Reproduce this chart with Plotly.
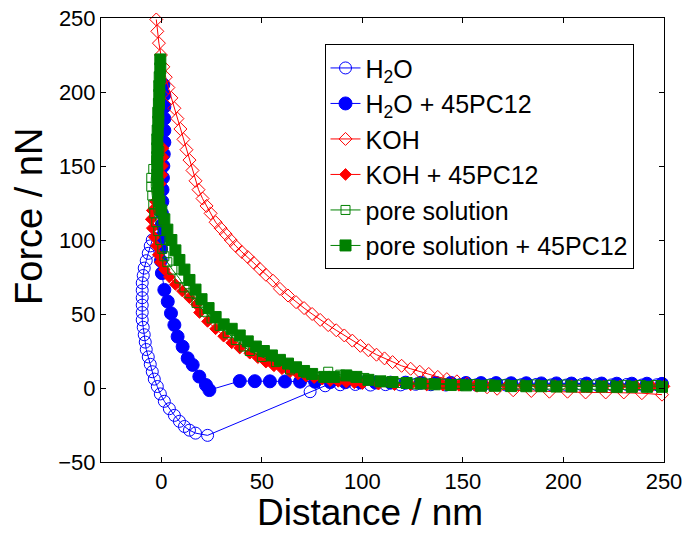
import plotly.graph_objects as go

# ---- force-distance data (distance in nm, force in nN) ----
h2o_x = [-4.5, -5.5, -6.5, -7.5, -8.5, -9, -9.5, -9.5, -9.5, -9.5, -9.5, -9.5, -9, -8.5, -8, -7.5,
         -6.5, -5.5, -4.5, -3.5, -2, -0.5, 1.5, 4, 6.5, 9, 11.5, 14, 17, 23,
         74, 81.5, 89, 96.5, 104, 111.5, 119, 126.5, 134, 141.5, 149, 156.5, 164, 171.5,
         179, 186.5, 194, 201.5, 209, 216.5, 224, 231.5, 239, 246.5]
h2o_y = [100, 96, 91, 86, 81, 76, 71, 66, 61, 56, 51, 46, 41, 36, 31, 26,
         21, 16, 11, 6, 1, -4, -9, -14, -18.5, -22.5, -26, -28.5, -30.5, -32,
         -2.5, 1.5, 2.2, 2.4, 2.0, 2.3, 2.1, 2.5, 2.2, 2.0, 2.4, 2.1, 2.3, 2.0,
         2.2, 2.4, 2.1, 2.0, 2.3, 2.2, 2.1, 2.4, 2.0, 2.2]

h2o_pc_x = [1, 1.5, 1.5, 1.5, 1.5, 1.5, 1.2, 1, 0.8, 0.6, 0.5, 0.3, 0.2, 0, -0.1, -0.2,
            0.3, 1.5, 3.2, 4.8, 6.5, 8.1, 10.6, 13.1, 15.6, 18.9, 22.2, 23.9,
            39, 46.5, 54, 61.5, 69, 76.5, 84, 91.5, 99, 106.5, 114, 121.5, 129, 136.5,
            144, 151.5, 159, 166.5, 174, 181.5, 189, 196.5, 204, 211.5, 219, 226.5,
            234, 241.5, 249]
h2o_pc_y = [205, 198, 190, 182, 174, 166, 158, 150, 142, 134, 126, 118, 110, 102, 94, 86,
            77.6, 66.3, 58.4, 50.5, 42.6, 34.7, 27.9, 20.1, 15.6, 7.7, 2, -1.4,
            4.7, 4.6, 4.5, 4.4, 4.3, 4.2, 4.0, 3.9, 3.8, 3.7, 3.6, 3.6, 3.5, 3.5,
            3.4, 3.4, 3.3, 3.3, 3.2, 3.2, 3.1, 3.1, 3.0, 3.0, 3.0, 2.9,
            2.9, 2.9, 2.8]

koh_x = [-2.5, -2, -1.2, -0.2, 1, 2.2, 3.5, 5, 6.5, 8, 9.5, 11, 12.5, 14, 15.5, 17, 18.5,
         20.5, 22.5, 24.5, 27, 29.5, 32, 34.5, 37, 40, 43, 46, 49, 52, 55.5, 59, 63, 67,
         71, 75, 79, 83, 87, 91, 95, 99, 103, 107, 111, 115, 119.5, 124, 128.5, 133,
         137.5, 142, 147, 152, 157, 162, 167, 175, 184, 193, 202, 211, 221, 230, 239, 249]
koh_y = [249, 241, 233, 225, 217, 210, 203, 196, 189, 182, 175, 168, 161, 154, 147, 140, 134,
         128, 123, 118, 112, 108, 104, 100, 96, 92, 88.5, 84.5, 80.5, 76.5, 72.5, 67, 62.5, 58,
         54, 50, 46, 42.5, 39, 35.5, 32, 28.5, 25.5, 22.5, 20, 17.5, 15, 13, 11, 9.5,
         7.5, 6, 4.5, 3, 1.5, 0.5, -0.5, -1.5, -2, -2.5, -2.5, -3, -3, -3, -3.5, -4.5]

koh_pc_x = [0.8, 0.8, 0.6, 0.3, -0.5, -1.5, -3, -4.5, -5, -4.5, -3.5, -2.5, -1.5, -0.5,
            1.5, 4, 7, 10.5, 14, 17.5, 19, 23, 27, 31, 35, 39, 44, 48, 52, 56, 60, 64, 68,
            72, 76, 80, 84, 88, 92, 96, 100, 108, 116, 124, 132, 140, 148, 156, 164, 172,
            180, 188, 196, 204, 212, 220, 228, 236, 244, 250]
koh_pc_y = [162, 156, 150, 144, 138, 132, 126, 120, 114, 108, 102, 96, 90, 85,
            80, 75, 70, 65.5, 61, 56.5, 51, 45, 40, 35, 30.5, 27, 23.5, 20.5, 17.5, 15, 13, 11, 9.5,
            8, 7, 6, 5, 4.5, 4, 3.5, 3, 2.6, 2.3, 2.1, 2.0, 1.9, 1.8, 1.7, 1.6, 1.6,
            1.5, 1.5, 1.4, 1.4, 1.3, 1.3, 1.2, 1.2, 1.1, 1.1]

pore_x = [-1, -2.5, -4, -5, -5, -4.5, -4, -3.5, -2.5, -1.5, -0.5, 0.5, 1.5, 3, 5.5, 9, 11.5,
          14, 17.5, 21.5, 25, 29, 33, 37, 41, 44, 50, 57, 64, 72, 83, 89, 95, 101, 110,
          118.5, 126, 133.5, 141, 148.5, 156, 163.5, 171, 178.5, 186, 193.5, 201, 208.5,
          216, 223.5, 231, 238.5, 246]
pore_y = [160, 154, 148, 142, 136, 130, 124, 118, 112, 106, 100, 94, 89, 85, 80, 74, 68,
          64, 57.5, 51.5, 47, 42, 37, 32.5, 28, 25, 21, 17.5, 12.5, 10, 11, 9, 8, 6.8, 4,
          3.4, 2.5, 3, 3, 2.8, 2.6, 2.5, 2.5, 2.4, 2.4, 2.3, 2.3, 2.2, 2.2, 2.1, 2.1, 2.0,
          2.0]

pore_pc_x = [-0.5, -0.5, -0.8, -1, -1, -1.2, -1.5, -1.5, -1.8, -2, -2, -2, -2, -2, -1.8,
             -1.5, -1, 0, 1.5, 3, 5, 7, 9, 11.5, 14, 17, 20, 23.5, 27, 31, 35, 39, 43, 47,
             51, 55, 59, 63, 67, 71, 75, 81, 86, 92, 97, 103, 109, 115, 122, 129, 136, 144,
             151.5, 159, 166, 174, 181.5, 189, 196.5, 204, 211.5, 219, 226.5, 234, 241.5, 249]
pore_pc_y = [222, 216, 210, 204, 198, 192, 186, 180, 174, 168, 162, 156, 150, 144, 138,
             132, 126, 120, 114, 107, 100, 93, 86.5, 80, 73, 66.5, 60, 54, 48, 43, 40, 35.5, 31.5, 28,
             25, 22, 19, 16.5, 14, 11.5, 9.5, 7.5, 7.5, 8.5, 7.5, 5.5, 4.5, 4, 3.4, 3, 2.5, 2,
             1.8, 1.5, 1.5, 1.3, 1.2, 1.2, 1, 1, 1, 1, 0.8, 0.8, 0.8, 0.8]

BLUE = "rgb(0,0,255)"
RED = "rgb(255,0,0)"
GREEN = "rgb(0,128,0)"

series = [
    ("H<sub>2</sub>O", h2o_x, h2o_y, BLUE, "circle-open", 12),
    ("H<sub>2</sub>O + 45PC12", h2o_pc_x, h2o_pc_y, BLUE, "circle", 13),
    ("KOH", koh_x, koh_y, RED, "diamond-open", 10),
    ("KOH + 45PC12", koh_pc_x, koh_pc_y, RED, "diamond", 9),
    ("pore solution", pore_x, pore_y, GREEN, "square-open", 9),
    ("pore solution + 45PC12", pore_pc_x, pore_pc_y, GREEN, "square", 11),
]

fig = go.Figure()
for i, (name, xs, ys, col, sym, size) in enumerate(series):
    fig.add_trace(go.Scatter(
        x=xs, y=ys, name=name, mode="lines+markers",
        legendgroup=f"g{i}", cliponaxis=False,
        line=dict(color=col, width=1),
        marker=dict(symbol=sym, size=size, color=col, line=dict(color=col, width=1)),
    ))

FONT = "Liberation Sans, Arial, sans-serif"
axis_common = dict(
    showline=True, linecolor="black", linewidth=1, mirror="ticks",
    ticks="inside", ticklen=5, tickcolor="black", tickwidth=1,
    showgrid=False, zeroline=False, ticklabeloverflow="allow", automargin=False,
    tickfont=dict(family=FONT, size=22, color="black"),
)

fig.update_layout(
    width=689, height=534,
    margin=dict(l=101, r=25, t=18, b=72),
    paper_bgcolor="white", plot_bgcolor="white",
    font=dict(family=FONT, color="black"),
    xaxis=dict(range=[-30, 250], tick0=0, dtick=50, **axis_common),
    yaxis=dict(range=[-50, 250], tick0=0, dtick=50, **axis_common),
    legend=dict(x=0.397, y=0.941, xanchor="left", yanchor="top",
                bgcolor="white", bordercolor="black", borderwidth=1,
                font=dict(family=FONT, size=25, color="black"),
                tracegroupgap=0),
    showlegend=True,
    annotations=[
        dict(text="Distance / nm", xref="paper", yref="paper", x=0.478, y=-0.113,
             xanchor="center", yanchor="middle", showarrow=False,
             font=dict(family=FONT, size=37, color="black")),
        dict(text="Force / nN", xref="paper", yref="paper", x=-0.128, y=0.554,
             xanchor="center", yanchor="middle", textangle=-90, showarrow=False,
             font=dict(family=FONT, size=38, color="black")),
    ],
)

fig.write_html("out.html")
